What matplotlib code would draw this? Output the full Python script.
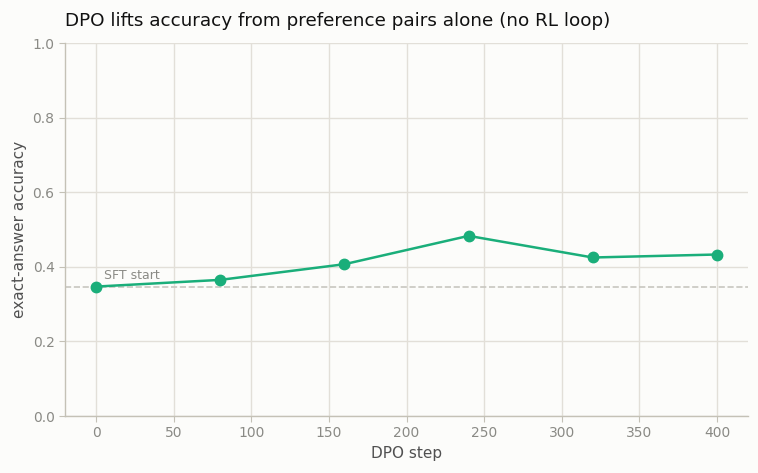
import matplotlib.pyplot as plt

steps = [0, 80, 160, 240, 320, 400]
accuracy = [0.347, 0.365, 0.407, 0.483, 0.425, 0.433]
sft_start = 0.347

bg = '#fcfcfa'
green = '#1aae7a'

fig = plt.figure(figsize=(7.58, 4.73), dpi=100, facecolor=bg)
ax = fig.add_axes([0.0858, 0.1205, 0.901, 0.7885], facecolor=bg)

ax.grid(True, color='#e2dfd8', linewidth=1, zorder=0)
ax.set_axisbelow(True)

ax.axhline(sft_start, color='#c8c6c0', linestyle='--', linewidth=1.2, zorder=1)
ax.plot(steps, accuracy, '-o', color=green, linewidth=1.8, markersize=7.5, zorder=3)
ax.text(steps[0] + 5, sft_start + 0.012, 'SFT start', color='#8a8a85', fontsize=9, va='bottom')

ax.set_xlim(-20, 420)
ax.set_ylim(0, 1.0)
ax.set_yticks([0, 0.2, 0.4, 0.6, 0.8, 1.0])

for s in ['top', 'right']:
    ax.spines[s].set_visible(False)
for s in ['left', 'bottom']:
    ax.spines[s].set_color('#c4c1b6')
    ax.spines[s].set_linewidth(1)

ax.tick_params(colors='#c4c1b6', labelcolor='#8a8a85', labelsize=10, length=4)
ax.set_xlabel('DPO step', fontsize=11, color='#505050')
ax.set_ylabel('exact-answer accuracy', fontsize=11, color='#505050')
ax.set_title('DPO lifts accuracy from preference pairs alone (no RL loop)', fontsize=13.2, loc='left', x=0.0, pad=12, color='#111111')

plt.savefig('out.png', dpi=100, facecolor=bg)
